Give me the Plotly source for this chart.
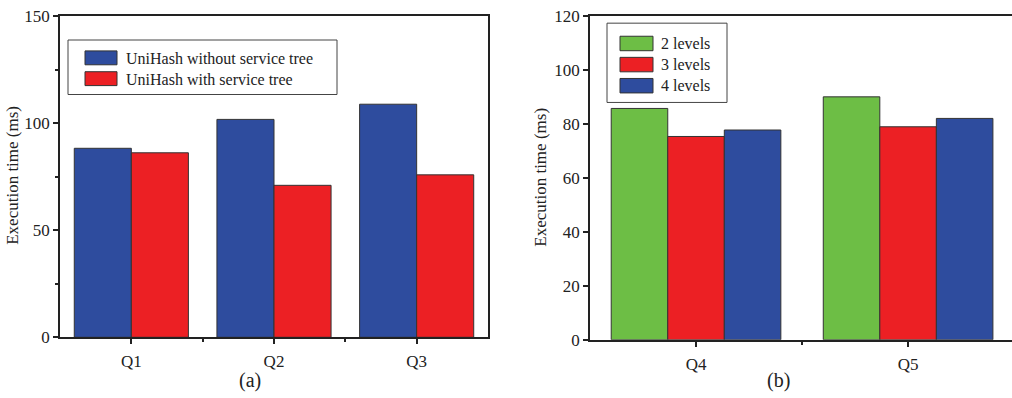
import plotly.graph_objects as go

# ---- data ----
cats_a = ["Q1", "Q2", "Q3"]
names_a = ["UniHash without service tree", "UniHash with service tree"]
without_tree = [88.3, 101.8, 108.9]
with_tree = [86.2, 71.0, 75.9]

cats_b = ["Q4", "Q5"]
names_b = ["2 levels", "3 levels", "4 levels"]
levels2 = [85.8, 90.1]
levels3 = [75.4, 79.0]
levels4 = [77.8, 82.1]

BLUE = "#2E4C9E"
RED = "#EC2024"
GREEN = "#6DBE45"
EDGE = "#333333"
FONT = "Liberation Serif, Times New Roman, serif"

W, H = 1012, 398
# the captured page shows the figure with a small vertical inset; compensate for it
Y_OFF, Y_SCALE = 7.7, 0.961

def px(x):
    return x / W

def py(y):
    yf = (y - Y_OFF) / Y_SCALE
    return (H - yf) / H

fig = go.Figure()

series_a = [(names_a[0], without_tree, BLUE), (names_a[1], with_tree, RED)]
for i, (n, v, c) in enumerate(series_a):
    fig.add_trace(go.Bar(
        x=list(range(len(cats_a))), y=v, name=n, marker=dict(color=c, line=dict(color=EDGE, width=1)),
        xaxis="x", yaxis="y", offsetgroup=f"a{i}", showlegend=False))

series_b = [(names_b[0], levels2, GREEN), (names_b[1], levels3, RED), (names_b[2], levels4, BLUE)]
for i, (n, v, c) in enumerate(series_b):
    fig.add_trace(go.Bar(
        x=list(range(len(cats_b))), y=v, name=n, marker=dict(color=c, line=dict(color=EDGE, width=1)),
        xaxis="x2", yaxis="y2", offsetgroup=f"b{i}", showlegend=False))

axis_common = dict(showline=True, linecolor="#222", linewidth=1.5, ticks="outside", ticklen=5,
                   tickwidth=1.5, tickcolor="#222", showgrid=False, zeroline=False,
                   ticklabeloverflow="allow",
                   tickfont=dict(family=FONT, size=17, color="#222"))

fig.update_layout(
    width=W, height=H, margin=dict(l=0, r=0, t=0, b=0),
    paper_bgcolor="white", plot_bgcolor="white",
    barmode="group", bargap=0.2, bargroupgap=0,
    font=dict(family=FONT, color="#222"),
    xaxis=dict(domain=[px(60), px(488)], anchor="y", range=[-0.5, 2.5],
               tickmode="array", tickvals=list(range(len(cats_a))), ticktext=cats_a,
               ticklabelstandoff=3,
               mirror=True, minor=dict(tickvals=[0.5, 1.5], ticks="outside", ticklen=3, tickwidth=1.5, tickcolor="#222"),
               **axis_common),
    yaxis=dict(domain=[py(339), py(15)], anchor="x", range=[0, 150],
               tickmode="array", tickvals=[0, 50, 100, 150],
               mirror=True, minor=dict(tickvals=[25, 75, 125], ticks="outside", ticklen=3, tickwidth=1.5, tickcolor="#222"),
               **axis_common),
    xaxis2=dict(domain=[px(590), 1.0], anchor="y2", range=[-0.5, 1.49],
                tickmode="array", tickvals=list(range(len(cats_b))), ticktext=cats_b,
                ticklabelstandoff=3,
                mirror=True, minor=dict(tickvals=[0.5], ticks="outside", ticklen=3, tickwidth=1.5, tickcolor="#222"),
                **axis_common),
    yaxis2=dict(domain=[py(341.5), py(15)], anchor="x2", range=[0, 120],
                tickmode="array", tickvals=[0, 20, 40, 60, 80, 100, 120],
                mirror=False, **axis_common),
)

shapes = []
annotations = []

def note(x, y, text, size=16, angle=0, xanchor="center"):
    annotations.append(dict(x=px(x), y=py(y), xref="paper", yref="paper", text=text,
                            textangle=angle, showarrow=False, xanchor=xanchor, yanchor="middle",
                            font=dict(family=FONT, size=size, color="#222")))

# axis titles and panel labels
note(13, 176, "Execution time (ms)", size=17, angle=-90)
note(541, 178, "Execution time (ms)", size=17, angle=-90)
note(250, 383, "(a)", size=20)
note(778, 383, "(b)", size=20)

# legend (a)
shapes.append(dict(type="rect", xref="paper", yref="paper", x0=px(68), x1=px(337), y0=py(94), y1=py(39),
                   line=dict(color="#444", width=1), fillcolor="white"))
for k, (n, v, c) in enumerate(series_a):
    yc = 57 + 21 * k
    shapes.append(dict(type="rect", xref="paper", yref="paper", x0=px(85), x1=px(117),
                       y0=py(yc + 7), y1=py(yc - 7), line=dict(color=EDGE, width=1), fillcolor=c))
    note(124, yc + 0.5, n, xanchor="left")

# legend (b)
shapes.append(dict(type="rect", xref="paper", yref="paper", x0=px(607), x1=px(727), y0=py(102), y1=py(22),
                   line=dict(color="#444", width=1), fillcolor="white"))
for k, (n, v, c) in enumerate(series_b):
    yc = 42.5 + 21.3 * k
    shapes.append(dict(type="rect", xref="paper", yref="paper", x0=px(620), x1=px(653),
                       y0=py(yc + 7.3), y1=py(yc - 7.3), line=dict(color=EDGE, width=1), fillcolor=c))
    note(659, yc, n, xanchor="left")

fig.update_layout(shapes=shapes, annotations=annotations)
fig.write_html("out.html", config={"displayModeBar": False},
               post_script=("var r=document.documentElement,b=document.body;"
                            "r.style.margin='0';r.style.padding='0';"
                            "b.style.margin='0';b.style.padding='0';"))
